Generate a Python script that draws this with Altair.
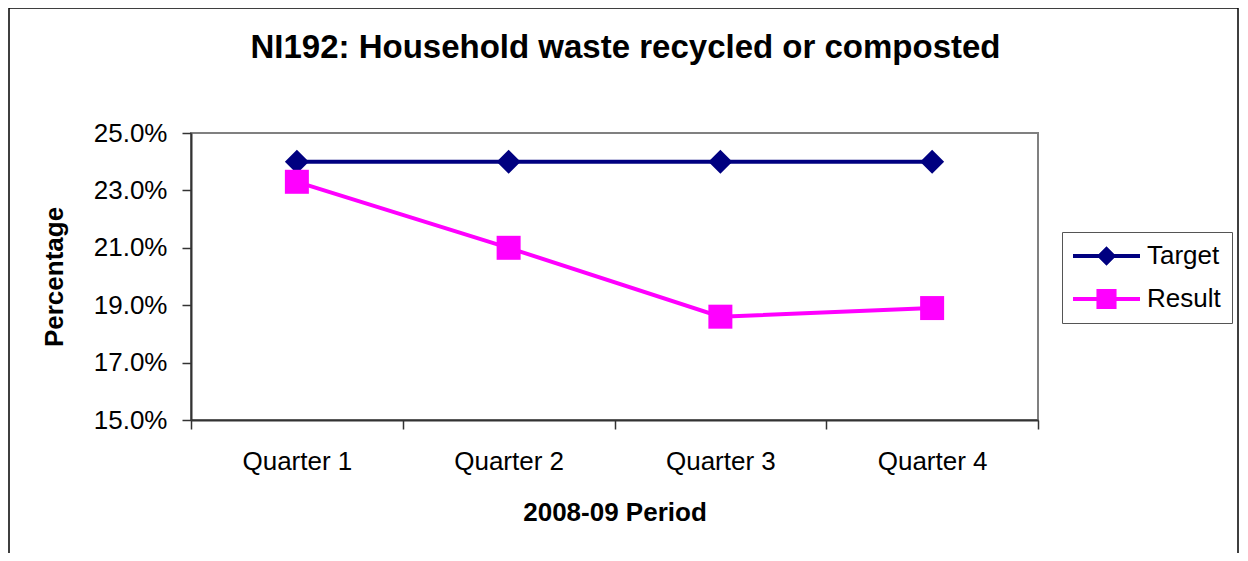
import altair as alt
import pandas as pd

quarters = ["Quarter 1", "Quarter 2", "Quarter 3", "Quarter 4"]
target = [24.0, 24.0, 24.0, 24.0]
result = [23.3, 21.0, 18.6, 18.9]
series = ["Target", "Result"]
colors = ["#000080", "#FF00FF"]
y_ticks = [15.0, 17.0, 19.0, 21.0, 23.0, 25.0]

df = pd.DataFrame({
    "quarter": quarters * 2,
    "series": ["Target"] * 4 + ["Result"] * 4,
    "value": target + result,
})

FONT = "Liberation Sans"
W, H = 847, 287

x_enc = alt.X(
    "quarter:N", sort=quarters,
    scale=alt.Scale(type="band", paddingInner=0, paddingOuter=0),
    axis=alt.Axis(title="2008-09 Period", labelAngle=0, tickBand="extent",
                  labelPadding=19, titlePadding=25),
)
y_enc = alt.Y(
    "value:Q",
    scale=alt.Scale(domain=[15, 25], nice=False, zero=False),
    axis=alt.Axis(values=y_ticks, labelExpr="format(datum.value, '.1f') + '%'",
                  title="Percentage", labelPadding=15, titlePadding=26),
)

# custom legend symbols: line + marker (unit coordinates)
path_target = ("M-1,-0.06 L1,-0.06 L1,0.06 L-1,0.06 Z "
               "M0,-0.29 L0.29,0 L0,0.29 L-0.29,0 Z")
path_result = ("M-1,-0.06 L1,-0.06 L1,0.06 L-1,0.06 Z "
               "M-0.3,-0.3 L0.3,-0.3 L0.3,0.3 L-0.3,0.3 Z")

base = alt.Chart(df)

frame = alt.Chart(alt.Data(values=[{"a": 1}])).mark_rect(
    fillOpacity=0, stroke="black", strokeWidth=1.5
).encode(x=alt.value(-182), x2=alt.value(1047), y=alt.value(-125), y2=alt.value(600))

target_line = base.transform_filter("datum.series == 'Target'").mark_line(
    color=colors[0], strokeWidth=4).encode(x=x_enc, y=y_enc)
target_pts = base.transform_filter("datum.series == 'Target'").mark_point(
    shape="diamond", filled=True, size=576, opacity=1, color=colors[0]).encode(x=x_enc, y=y_enc)
result_line = base.transform_filter("datum.series == 'Result'").mark_line(
    color=colors[1], strokeWidth=4).encode(x=x_enc, y=y_enc)
result_pts = base.transform_filter("datum.series == 'Result'").mark_point(
    shape="square", filled=True, size=576, opacity=1, color=colors[1]).encode(x=x_enc, y=y_enc)

leg = alt.Legend(
    orient="none", legendX=871, legendY=99, title=None,
    labelFont=FONT, labelFontSize=26, labelColor="black",
    symbolSize=4489, symbolStrokeWidth=0, symbolOpacity=1,
    clipHeight=26, rowPadding=17, padding=11, labelOffset=7,
    strokeColor="#555555", fillColor="white",
)
legend_layer = base.transform_filter("false").mark_point(
    filled=True, opacity=1, size=4489).encode(
    color=alt.Color("series:N", scale=alt.Scale(domain=series, range=colors), legend=leg),
    shape=alt.Shape("series:N", scale=alt.Scale(domain=series, range=[path_target, path_result]), legend=leg),
)

chart = alt.layer(
    frame, target_line, target_pts, result_line, result_pts, legend_layer
).properties(
    width=W, height=H,
    title=alt.Title("NI192: Household waste recycled or composted",
                    font=FONT, fontSize=33, fontWeight="bold", color="black",
                    anchor="middle", frame="group", dx=11, offset=-58),
    padding={"left": 183, "top": 125, "right": 202, "bottom": 133},
    autosize=alt.AutoSizeParams(type="none"),
).configure_view(
    stroke="#808080", strokeWidth=2
).configure_axis(
    domainColor="#333333", domainWidth=2, tickColor="#333333", tickWidth=1.5,
    tickSize=9, labelFont=FONT, labelFontSize=26, labelColor="black",
    titleFont=FONT, titleFontSize=26, titleFontWeight="bold", titleColor="black",
    grid=False,
)

chart.save("out.html", embed_options={"renderer": "svg", "actions": False})
